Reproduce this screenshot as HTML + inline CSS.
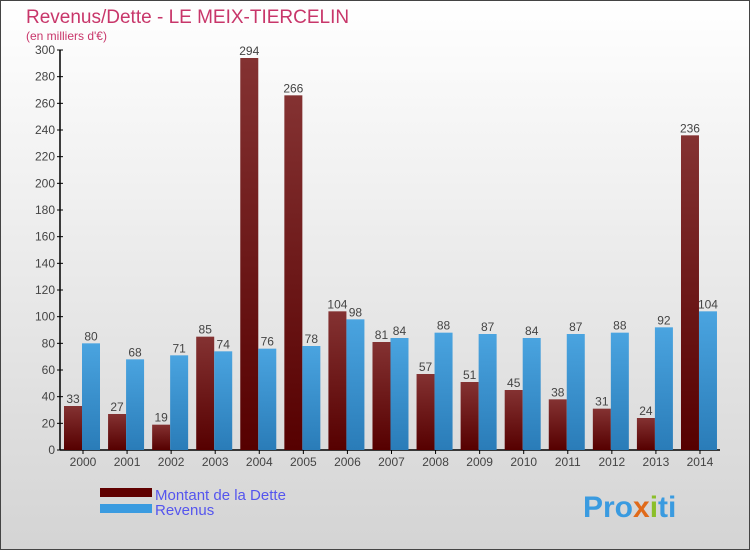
<!DOCTYPE html>
<html><head><meta charset="utf-8"><style>
body{margin:0;width:750px;height:550px;overflow:hidden;font-family:"Liberation Sans",sans-serif}
</style></head><body>
<svg width="750" height="550" xmlns="http://www.w3.org/2000/svg">
<defs>
<linearGradient id="bg" x1="0" y1="0" x2="0" y2="1"><stop offset="0" stop-color="#ffffff"/><stop offset="1" stop-color="#d4d4d4"/></linearGradient>
<linearGradient id="gd" x1="0" y1="0" x2="0" y2="1"><stop offset="0" stop-color="#843232"/><stop offset="1" stop-color="#560000"/></linearGradient>
<linearGradient id="gr" x1="0" y1="0" x2="0" y2="1"><stop offset="0" stop-color="#4aa4e0"/><stop offset="1" stop-color="#2a7cb8"/></linearGradient>
</defs>
<rect x="0.5" y="0.5" width="749" height="549" fill="url(#bg)" stroke="#444"/>
<text x="26" y="23" font-size="19" fill="#c8366a">Revenus/Dette - LE MEIX-TIERCELIN</text>
<text x="26" y="40" font-size="12" fill="#c8366a">(en milliers d'€)</text>
<g id="plot"></g>
<g>
<rect x="100" y="488" width="52" height="9" fill="#600000"/>
<text x="155" y="500" font-size="15" fill="#5555ee">Montant de la Dette</text>
<rect x="100" y="504" width="52" height="9" fill="#3a9be0"/>
<text x="155" y="515" font-size="15" fill="#5555ee">Revenus</text>
</g>
<text x="583" y="517" font-size="30" font-weight="bold" fill="#3a9be0">Pro<tspan fill="#e06a1a">x</tspan><tspan fill="#8bbf2a">i</tspan>ti</text>
</svg>
<script>
const years=["2000","2001","2002","2003","2004","2005","2006","2007","2008","2009","2010","2011","2012","2013","2014"];
const debt=[33,27,19,85,294,266,104,81,57,51,45,38,31,24,236];
const revenue=[80,68,71,74,76,78,98,84,88,87,84,87,88,92,104];
const yTicks=[0,20,40,60,80,100,120,140,160,180,200,220,240,260,280,300];
const NS="http://www.w3.org/2000/svg";
const g=document.getElementById('plot');
const y=v=>450-v*400/300;
const xc=i=>83+i*44.07;
function mk(t,a){const e=document.createElementNS(NS,t);for(const k in a)e.setAttribute(k,a[k]);g.appendChild(e);return e;}
const ax=mk('line',{x1:60,y1:50,x2:60,y2:450,stroke:'#000','stroke-width':1.5});


const bx=mk('line',{x1:60,y1:450,x2:720,y2:450,stroke:'#000','stroke-width':1.5});


yTicks.forEach(v=>{
 const l=mk('line',{x1:57,x2:63,y1:y(v),y2:y(v),stroke:'#000'});
 
 
 const t=mk('text',{x:55,y:y(v)+4,'font-size':12,fill:'#444','text-anchor':'end'});t.textContent=v;
 
 
});
years.forEach((yr,i)=>{
 const c=xc(i);
 const tk=mk('line',{x1:c,x2:c,y1:450,y2:454,stroke:'#000'});
 
 
 const t=mk('text',{x:c,y:466,'font-size':12,fill:'#444','text-anchor':'middle'});t.textContent=yr;
 
 
 const b1=mk('rect',{x:c-19,y:y(debt[i]),width:18,height:450-y(debt[i]),fill:'url(#gd)'});
 
 
 const b2=mk('rect',{x:c-1,y:y(revenue[i]),width:18,height:450-y(revenue[i]),fill:'url(#gr)'});
 
 
 const l1=mk('text',{x:c-10,y:y(debt[i])-3,'font-size':12,fill:'#444','text-anchor':'middle'});l1.textContent=debt[i];
 
 
 const l2=mk('text',{x:c+8,y:y(revenue[i])-3,'font-size':12,fill:'#444','text-anchor':'middle'});l2.textContent=revenue[i];
 
 
});
</script>
</body></html>
